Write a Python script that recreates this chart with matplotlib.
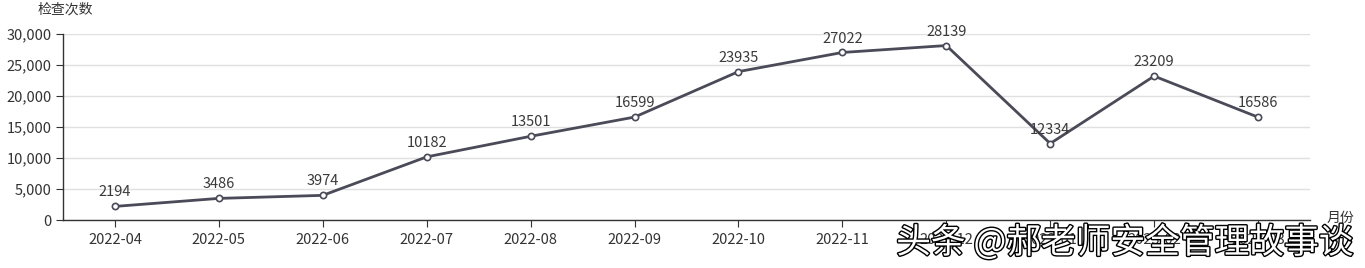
import matplotlib
matplotlib.use('Agg')
import matplotlib.pyplot as plt
import matplotlib.patheffects as pe

plt.rcParams['font.family'] = ['Noto Sans CJK SC', 'DejaVu Sans']

# 数据
months = ['2022-04', '2022-05', '2022-06', '2022-07', '2022-08', '2022-09',
          '2022-10', '2022-11', '2022-12', '2023-01', '2023-02', '2023-03']
counts = [2194, 3486, 3974, 10182, 13501, 16599, 23935, 27022, 28139, 12334, 23209, 16586]
yticks = [0, 5000, 10000, 15000, 20000, 25000, 30000]

fig = plt.figure(figsize=(13.65, 2.68), dpi=100)
ax = fig.add_axes([63 / 1365, 1 - 220 / 268, 1247 / 1365, 186 / 268])

x = list(range(len(months)))
ax.plot(x, counts, color='#4a4a58', lw=2, marker='o', ms=4.5,
        mfc='white', mec='#4a4a58', mew=1.2, zorder=3)
for xi, v in zip(x, counts):
    ax.annotate(str(v), (xi, v), xytext=(0, 5), textcoords='offset points',
                ha='center', va='bottom', fontsize=10.5, color='#3a3a3a')

ax.set_xlim(-0.5, len(months) - 0.5)
ax.set_ylim(0, 30000)
ax.set_yticks(yticks)
ax.set_yticklabels([f'{t:,}' for t in yticks])
ax.set_xticks(x)
ax.set_xticklabels(months)
ax.tick_params(axis='x', length=5, pad=4, color='#333333', labelsize=10.5, labelcolor='#333333')
ax.tick_params(axis='y', length=5, color='#333333', labelsize=10.5, labelcolor='#333333', pad=3)

ax.grid(axis='y', color='#e0e0e0', lw=1)
ax.set_axisbelow(True)
for s in ['top', 'right']:
    ax.spines[s].set_visible(False)
for s in ['left', 'bottom']:
    ax.spines[s].set_color('#333333')
    ax.spines[s].set_linewidth(1)

fig.text(65 / 1365, 1 - 10 / 268, '检查次数', ha='center', va='center', fontsize=10, color='#333333')
fig.text(1340 / 1365, 1 - 218 / 268, '月份', ha='center', va='center', fontsize=10, color='#333333')

# 水印
fig.text(1125 / 1365, 1 - 243 / 268, '头条 @郝老师安全管理故事谈', ha='center', va='center',
         fontsize=25, color='white',
         path_effects=[pe.withStroke(linewidth=2, foreground='black')])

fig.savefig('out.png', dpi=100)
